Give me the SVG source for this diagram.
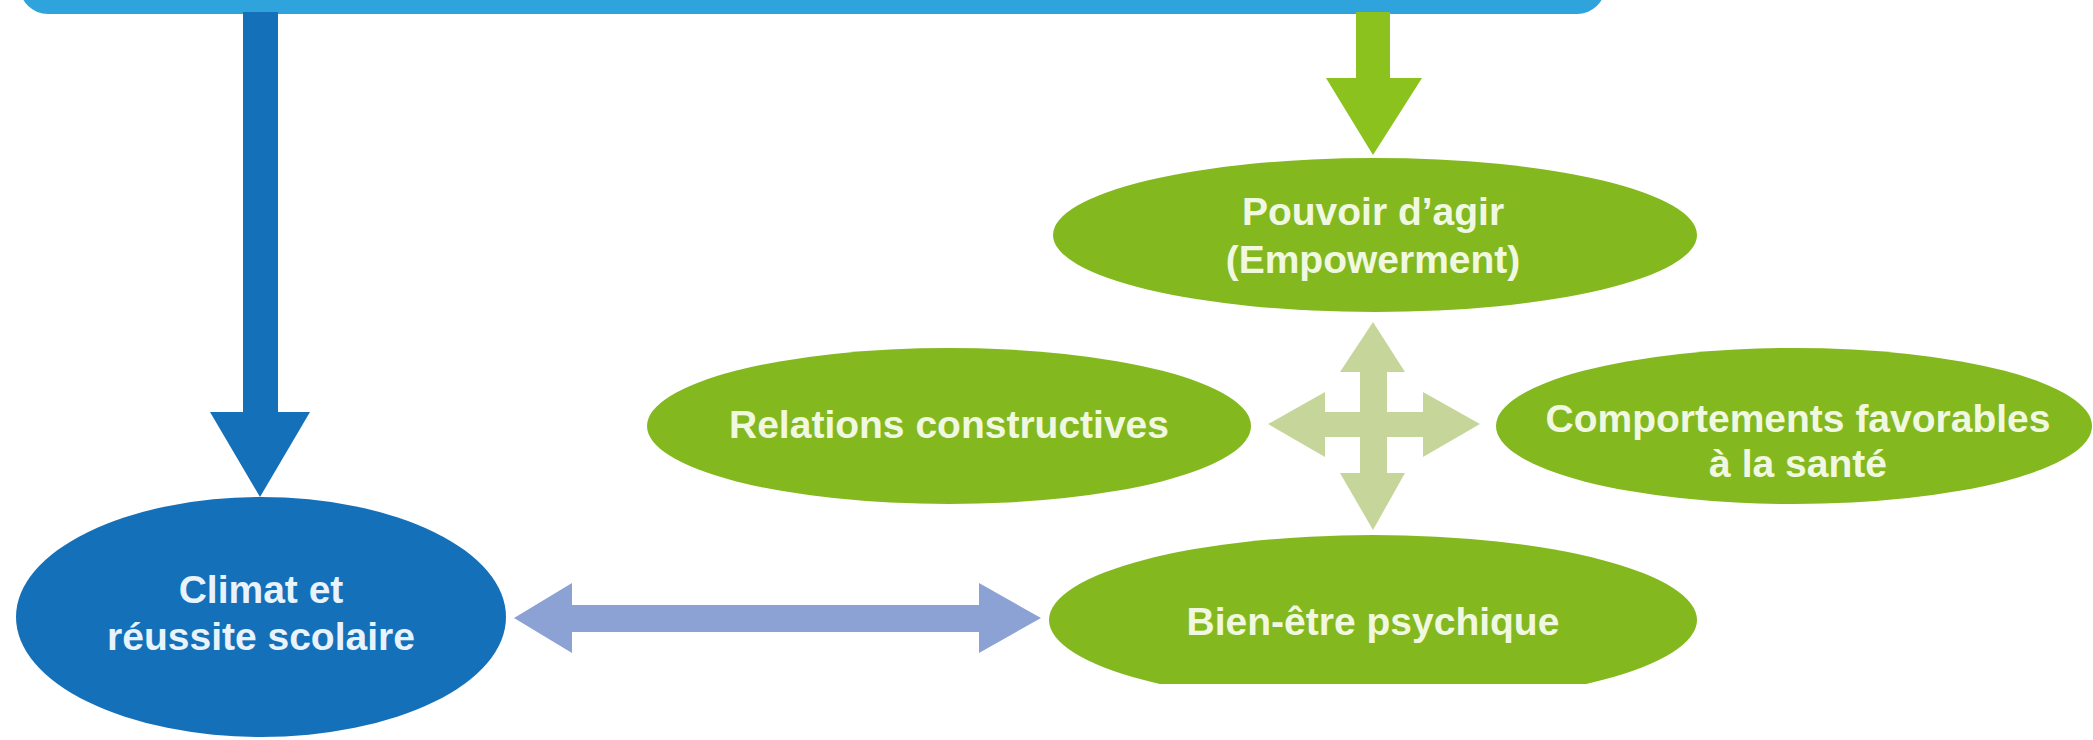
<svg xmlns="http://www.w3.org/2000/svg" width="2093" height="740" viewBox="0 0 2093 740">
<defs>
<style>
.lbl{font-family:"Liberation Sans",Arial,sans-serif;font-weight:bold;font-size:39px;text-anchor:middle}
.g{fill:#F1F8E2}
.b{fill:#E8F3FB}
.gn{fill:#84B81F}
.bl{fill:#1570BA}
</style>
<clipPath id="clipB"><rect x="0" y="0" width="2093" height="684"/></clipPath>
</defs>
<rect width="2093" height="740" fill="#FFFFFF"/>
<g id="top-bar">
<rect x="20" y="-40" width="1585" height="54" rx="28" fill="#2FA3DC"/>
</g>
<g id="connectors">
<polygon fill="#1570BA" points="243,12 278,12 278,412 310,412 260,497 210,412 243,412"/>
<polygon fill="#8CC21E" points="1356,12 1390,12 1390,78 1422,78 1373,155 1326,78 1356,78"/>
<polygon fill="#8DA2D4" points="514,618 572,583 572,605 979,605 979,583 1041,618 979,653 979,632 572,632 572,653"/>
<polygon fill="#C6D69A" points="1373,322 1405,372 1387,372 1387,412 1423,412 1423,392 1480,424 1423,457 1423,437 1387,437 1387,473 1405,473 1373,530 1340,473 1360,473 1360,437 1325,437 1325,457 1268,424 1325,392 1325,412 1360,412 1360,372 1340,372"/>
</g>
<g id="node-climat">
<ellipse class="bl" cx="261" cy="617" rx="245" ry="120"/>
<text class="lbl b" x="261" y="603">Climat et</text>
<text class="lbl b" x="261" y="650">réussite scolaire</text>
</g>
<g id="node-pouvoir">
<ellipse class="gn" cx="1375" cy="235" rx="322" ry="77"/>
<text class="lbl g" x="1373" y="225">Pouvoir d’agir</text>
<text class="lbl g" x="1373" y="273">(Empowerment)</text>
</g>
<g id="node-relations">
<ellipse class="gn" cx="949" cy="426" rx="302" ry="78"/>
<text class="lbl g" x="949" y="438">Relations constructives</text>
</g>
<g id="node-comportements">
<ellipse class="gn" cx="1794" cy="426" rx="298" ry="78"/>
<text class="lbl g" x="1798" y="432">Comportements favorables</text>
<text class="lbl g" x="1798" y="477">à la santé</text>
</g>
<g id="node-bienetre">
<ellipse class="gn" cx="1373" cy="620" rx="324" ry="85" clip-path="url(#clipB)"/>
<text class="lbl g" x="1373" y="635">Bien-être psychique</text>
</g>
</svg>
